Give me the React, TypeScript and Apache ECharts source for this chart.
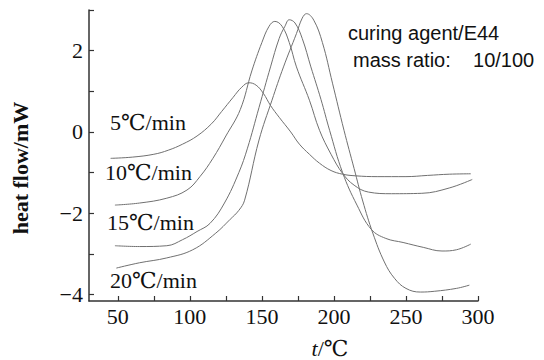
import React, { useEffect, useRef } from "react";
import * as echarts from "echarts";

const rate5: [number, number][] = [
  [45, -0.65], [60, -0.62], [75, -0.55], [85, -0.45], [95, -0.3], [105, -0.1], [115, 0.2],
  [122, 0.5], [130, 0.85], [136, 1.1], [141, 1.21], [146, 1.15], [151, 0.95], [156, 0.65],
  [162, 0.36], [170, 0.0], [176, -0.3], [183, -0.55], [190, -0.77], [198, -0.95], [206, -1.04],
  [215, -1.08], [230, -1.1], [250, -1.1], [265, -1.07], [280, -1.04], [295, -1.03],
];
const rate10: [number, number][] = [
  [48, -1.8], [65, -1.75], [84, -1.63], [98, -1.43], [107, -1.1], [116, -0.65], [125, -0.1],
  [135, 0.55], [143, 1.5], [150, 2.2], [155, 2.6], [159, 2.72], [164, 2.6], [169, 2.2],
  [174, 1.6], [183, 0.78], [190, 0.04], [198, -0.55], [206, -1.02], [214, -1.31], [224, -1.48],
  [240, -1.52], [261, -1.51], [280, -1.38], [296, -1.17],
];
const rate15: [number, number][] = [
  [48, -2.8], [65, -2.82], [84, -2.8], [95, -2.65], [105, -2.45], [114, -2.25], [124, -1.75],
  [134, -1.0], [140, -0.4], [148, 0.6], [156, 1.6], [162, 2.3], [166, 2.6], [169, 2.76],
  [173, 2.68], [178, 2.3], [184, 1.6], [191, 0.8], [197, 0.04], [206, -1.0], [216, -1.8],
  [226, -2.4], [236, -2.62], [248, -2.72], [262, -2.84], [275, -2.93], [285, -2.9], [295, -2.76],
];
const rate20: [number, number][] = [
  [49, -3.35], [65, -3.22], [84, -3.1], [102, -2.9], [118, -2.49], [128, -2.15], [134, -1.93],
  [138, -1.68], [148, -0.2], [157, 0.78], [165, 1.6], [174, 2.42], [178, 2.8], [181, 2.91],
  [186, 2.75], [192, 2.2], [199, 1.2], [207, 0.04], [214, -0.9], [220, -1.7], [227, -2.49],
  [235, -3.2], [242, -3.6], [250, -3.85], [260, -3.94], [270, -3.92], [285, -3.85], [294, -3.77],
];

const xTicks = [50, 75, 100, 125, 150, 175, 200, 225, 250, 275, 300];
const xLabels = [50, 100, 150, 200, 250, 300];
const yTicks = [-4, -3, -2, -1, 0, 1, 2, 3];
const yLabels = [-4, -2, 0, 2];

const seriesList = [
  { name: "5℃/min", data: rate5 },
  { name: "10℃/min", data: rate10 },
  { name: "15℃/min", data: rate15 },
  { name: "20℃/min", data: rate20 },
];

const curveLabels = [
  { text: "5℃/min", x: 110, y: 122 },
  { text: "10℃/min", x: 105, y: 172 },
  { text: "15℃/min", x: 107, y: 222 },
  { text: "20℃/min", x: 110, y: 280 },
];

const serif = "'Liberation Serif', 'DejaVu Serif', serif";
const sans = "'Liberation Sans', Arial, sans-serif";

export default function App() {
  const ref = useRef<HTMLDivElement>(null);
  useEffect(() => {
    if (!ref.current) return;
    const chart = echarts.init(ref.current, undefined, { renderer: "svg" });
    chart.setOption({
      animation: false,
      backgroundColor: "#fff",
      grid: { left: 89, right: 66, top: 10, bottom: 59 },
      xAxis: {
        type: "value",
        min: 30,
        max: 300,
        axisLine: { onZero: false, lineStyle: { color: "#333", width: 1.5 } },
        axisTick: { inside: true, length: 5, customValues: xTicks, lineStyle: { color: "#333", width: 1.2 } },
        axisLabel: {
          customValues: xLabels,
          color: "#111",
          fontFamily: serif,
          fontSize: 22,
          margin: 4,
        },
        splitLine: { show: false },
      },
      yAxis: {
        type: "value",
        min: -4.16,
        max: 3,
        axisLine: { show: true, onZero: false, lineStyle: { color: "#333", width: 1.5 } },
        axisTick: { show: true, inside: true, length: 5, customValues: yTicks, lineStyle: { color: "#333", width: 1.2 } },
        axisLabel: {
          customValues: yLabels,
          color: "#111",
          fontFamily: serif,
          fontSize: 22,
          margin: 6,
          formatter: (v: number) => (v < 0 ? "\u2212" + Math.abs(v) : String(v)),
        },
        splitLine: { show: false },
      },
      series: seriesList.map((s) => ({
        type: "line",
        name: s.name,
        data: s.data,
        smooth: 0.4,
        showSymbol: false,
        lineStyle: { color: "#707070", width: 1 },
      })),
      graphic: [
        ...curveLabels.map((l) => ({
          type: "text",
          x: l.x,
          y: l.y,
          style: { text: l.text, fontFamily: serif, fontSize: 22, fill: "#111", verticalAlign: "middle" },
        })),
        {
          type: "text",
          x: 348,
          y: 33,
          style: { text: "curing agent/E44", fontFamily: sans, fontSize: 20, fill: "#111", verticalAlign: "middle" },
        },
        {
          type: "text",
          x: 353,
          y: 60,
          style: { text: "mass ratio:    10/100", fontFamily: sans, fontSize: 20, fill: "#111", verticalAlign: "middle" },
        },
        {
          type: "text",
          x: 20,
          y: 168,
          rotation: Math.PI / 2,
          style: {
            text: "heat flow/mW",
            fontFamily: serif,
            fontSize: 22,
            fontWeight: "bold",
            fill: "#111",
            align: "center",
            verticalAlign: "middle",
          },
        },
        {
          type: "text",
          x: 330,
          y: 348,
          style: {
            text: "{i|t}/℃",
            fontFamily: serif,
            fontSize: 22,
            fill: "#111",
            align: "center",
            verticalAlign: "middle",
            rich: { i: { fontStyle: "italic", fontFamily: serif, fontSize: 22 } },
          },
        },
      ],
    });
    return () => chart.dispose();
  }, []);
  return <div ref={ref} style={{ position: "fixed", left: 0, top: 0, width: 544, height: 360 }} />;
}
